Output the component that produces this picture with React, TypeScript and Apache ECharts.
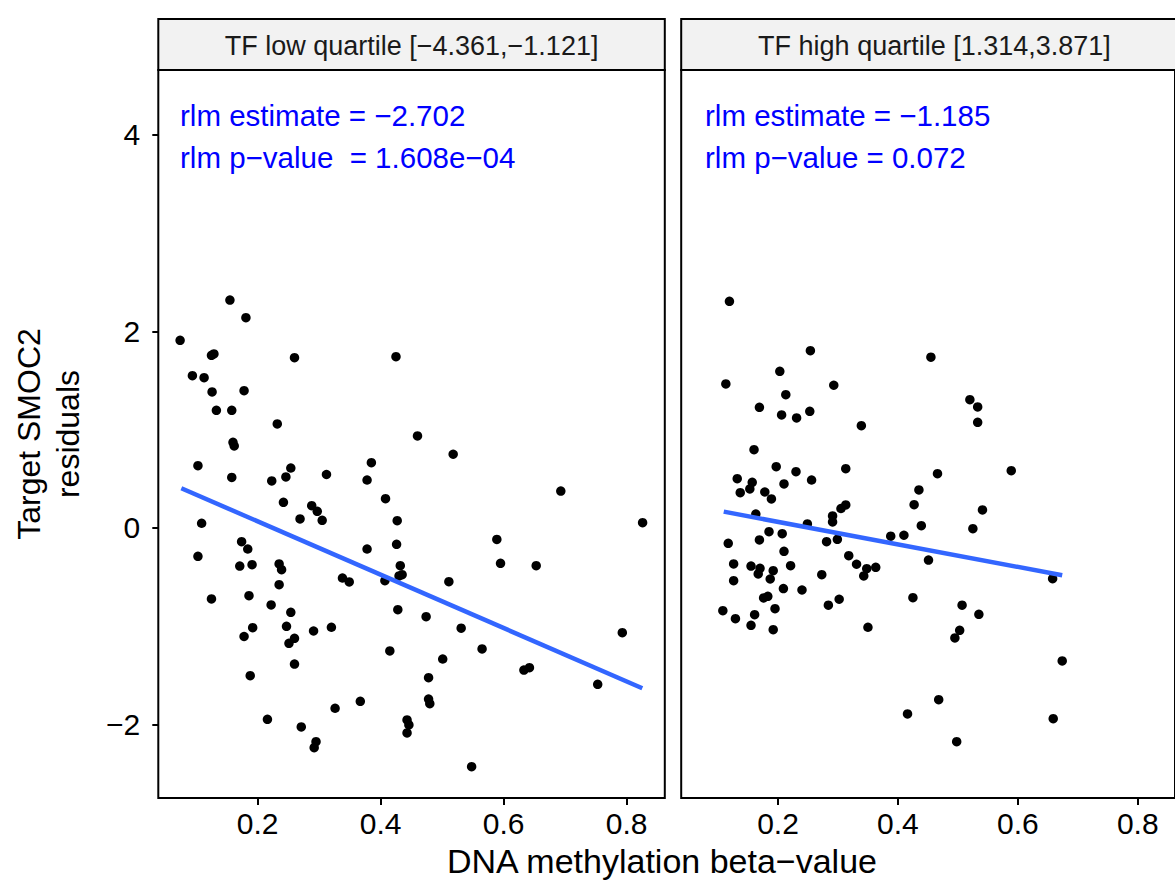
import React, { useEffect, useRef } from "react";
import * as echarts from "echarts";

// ---- data ----
const lowX = [
  0.155, 0.181, 0.074, 0.125, 0.129, 0.26, 0.425, 0.094, 0.113, 0.126,
  0.178, 0.133, 0.158, 0.232, 0.46, 0.16, 0.162, 0.103, 0.254, 0.385,
  0.158, 0.223, 0.246, 0.312, 0.378, 0.518, 0.693, 0.826, 0.408, 0.242,
  0.288, 0.297, 0.109, 0.269, 0.305, 0.427, 0.174, 0.184, 0.378, 0.426,
  0.103, 0.171, 0.191, 0.235, 0.239, 0.432, 0.43, 0.435, 0.407, 0.338,
  0.349, 0.235, 0.125, 0.186, 0.222, 0.254, 0.428, 0.192, 0.247, 0.291,
  0.32, 0.178, 0.251, 0.26, 0.415, 0.26, 0.188, 0.367, 0.326, 0.216,
  0.271, 0.295, 0.292, 0.443, 0.446, 0.443, 0.589, 0.595, 0.653, 0.511,
  0.474, 0.531, 0.565, 0.501, 0.633, 0.642, 0.793, 0.753, 0.478, 0.478,
  0.48, 0.548,
];
const lowY = [
  2.319, 2.139, 1.909, 1.757, 1.77, 1.732, 1.743, 1.549, 1.529, 1.384,
  1.397, 1.197, 1.197, 1.058, 0.936, 0.872, 0.834, 0.634, 0.61, 0.664,
  0.514, 0.478, 0.519, 0.544, 0.488, 0.75, 0.376, 0.054, 0.298, 0.261,
  0.227, 0.17, 0.048, 0.092, 0.078, 0.074, -0.139, -0.214, -0.214, -0.166,
  -0.288, -0.387, -0.373, -0.366, -0.424, -0.384, -0.488, -0.475, -0.536, -0.509,
  -0.549, -0.577, -0.722, -0.689, -0.783, -0.858, -0.831, -1.014, -1.0, -1.048,
  -1.01, -1.104, -1.173, -1.122, -1.251, -1.384, -1.503, -1.763, -1.834, -1.946,
  -2.024, -2.174, -2.235, -1.953, -2.004, -2.085, -0.117, -0.359, -0.384, -0.546,
  -0.902, -1.02, -1.231, -1.333, -1.445, -1.421, -1.065, -1.59, -1.523, -1.74,
  -1.787, -2.428,
];
const highX = [
  0.119, 0.254, 0.203, 0.113, 0.293, 0.213, 0.169, 0.206, 0.231, 0.253,
  0.339, 0.16, 0.197, 0.23, 0.313, 0.132, 0.157, 0.153, 0.137, 0.178,
  0.21, 0.256, 0.189, 0.435, 0.163, 0.249, 0.291, 0.291, 0.305, 0.313,
  0.427, 0.439, 0.117, 0.169, 0.185, 0.207, 0.281, 0.299, 0.388, 0.41,
  0.21, 0.126, 0.155, 0.17, 0.167, 0.192, 0.221, 0.187, 0.126, 0.318,
  0.331, 0.348, 0.343, 0.363, 0.273, 0.209, 0.24, 0.176, 0.183, 0.195,
  0.284, 0.302, 0.425, 0.108, 0.129, 0.161, 0.155, 0.192, 0.35, 0.416,
  0.455, 0.52, 0.533, 0.533, 0.589, 0.466,
  0.525, 0.451, 0.658, 0.507, 0.535, 0.503, 0.495, 0.674, 0.468, 0.659, 0.498, 0.541,
];
const highY = [
  2.306, 1.804, 1.594, 1.465, 1.452, 1.356, 1.228, 1.15, 1.119, 1.187,
  1.041, 0.797, 0.624, 0.573, 0.603, 0.502, 0.465, 0.397, 0.359, 0.366,
  0.448, 0.488, 0.295, 0.387, 0.142, 0.041, 0.122, 0.061, 0.198, 0.234,
  0.237, 0.023, -0.156, -0.122, -0.038, -0.058, -0.139, -0.115, -0.084, -0.074,
  -0.237, -0.366, -0.387, -0.41, -0.468, -0.434, -0.384, -0.519, -0.536, -0.282,
  -0.369, -0.414, -0.488, -0.4, -0.475, -0.617, -0.631, -0.712, -0.695, -0.821,
  -0.786, -0.725, -0.709, -0.841, -0.923, -0.882, -0.99, -1.035, -1.01, -1.892,
  1.737, 1.305, 1.231, 1.075, 0.583, 0.552,
  -0.007, -0.326, -0.516, -0.786, -0.878, -1.041, -1.119, -1.353, -1.747, -1.94, -2.174, 0.183,
];
const lowFitX = [0.076, 0.8255];
const lowFitY = [0.404, -1.63];
const highFitX = [0.1095, 0.674];
const highFitY = [0.166, -0.481];

const xTicks = [0.2, 0.4, 0.6, 0.8];
const yTicks = [-2, 0, 2, 4];
const panelTitles = [
  "TF low quartile [\u22124.361,\u22121.121]",
  "TF high quartile [1.314,3.871]",
];
const lowStats = ["rlm estimate = \u22122.702", "rlm p\u2212value  = 1.608e\u221204"];
const highStats = ["rlm estimate = \u22121.185", "rlm p\u2212value = 0.072"];
const xTitle = "DNA methylation beta\u2212value";
const yTitleLines = ["Target SMOC2", "residuals"];

const X_MIN = 0.03854;
const X_MAX = 0.8621;
const Y_MIN = -2.747;
const Y_MAX = 4.659;

const FONT = "'Liberation Sans', Arial, Helvetica, sans-serif";

const zip = (xs: number[], ys: number[]) => xs.map((x, i) => [x, ys[i]]);
const minus = (s: string) => s.replace(/-/g, "\u2212");

export default function App() {
  const ref = useRef<HTMLDivElement>(null);

  useEffect(() => {
    if (!ref.current) return;
    const chart = echarts.init(ref.current, undefined, { renderer: "svg" });

    const panelLeft = [158.3, 681.2];
    const panelW = 506.5;
    const panelTop = 70;
    const panelH = 728;
    const stripTop = 19;
    const stripH = 51;

    const xAxisBase = (gi: number) => ({
      type: "value",
      gridIndex: gi,
      min: X_MIN,
      max: X_MAX,
      position: "bottom",
      axisLine: { show: false, onZero: false },
      splitLine: { show: false },
      axisTick: {
        show: true,
        customValues: xTicks,
        length: 7,
        lineStyle: { color: "#000", width: 2 },
      },
      axisLabel: {
        customValues: xTicks,
        fontSize: 30,
        color: "#000",
        fontFamily: FONT,
        margin: 10,
        formatter: (v: number) => v.toFixed(1),
      },
    });
    const yAxisBase = (gi: number, show: boolean) => ({
      type: "value",
      gridIndex: gi,
      min: Y_MIN,
      max: Y_MAX,
      position: "left",
      axisLine: { show: false, onZero: false },
      splitLine: { show: false },
      axisTick: {
        show,
        customValues: yTicks,
        length: 6,
        lineStyle: { color: "#000", width: 2 },
      },
      axisLabel: {
        show,
        customValues: yTicks,
        fontSize: 30,
        color: "#000",
        fontFamily: FONT,
        margin: 18,
        formatter: (v: number) => minus(String(v)),
      },
    });

    const graphics: any[] = [];
    [0, 1].forEach((i) => {
      graphics.push({
        type: "rect",
        shape: { x: panelLeft[i], y: stripTop, width: panelW, height: stripH },
        style: { fill: "#F2F2F2", stroke: "#000", lineWidth: 2 },
        z: 10,
      });
      graphics.push({
        type: "text",
        x: panelLeft[i] + panelW / 2,
        y: stripTop + stripH / 2 + 1,
        style: {
          text: panelTitles[i],
          fill: "#1a1a1a",
          fontSize: 27,
          fontFamily: FONT,
          align: "center",
          verticalAlign: "middle",
        },
        z: 11,
      });
      const stats = i === 0 ? lowStats : highStats;
      const tx = i === 0 ? 180 : 705;
      stats.forEach((s, k) => {
        graphics.push({
          type: "text",
          x: tx,
          y: k === 0 ? 115 : 157,
          style: {
            text: s,
            fill: "#0000FF",
            fontSize: 29.5,
            fontFamily: FONT,
            align: "left",
            verticalAlign: "middle",
          },
          z: 11,
        });
      });
    });
    graphics.push({
      type: "text",
      x: 662,
      y: 861,
      style: {
        text: xTitle,
        fill: "#000",
        fontSize: 34,
        fontFamily: FONT,
        align: "center",
        verticalAlign: "middle",
      },
    });
    yTitleLines.forEach((t, k) => {
      graphics.push({
        type: "text",
        x: k === 0 ? 29 : 68,
        y: 434,
        rotation: Math.PI / 2,
        style: {
          text: t,
          fill: "#000",
          fontSize: 32,
          fontFamily: FONT,
          align: "center",
          verticalAlign: "middle",
        },
      });
    });

    chart.setOption({
      animation: false,
      backgroundColor: "#fff",
      grid: [0, 1].map((i) => ({
        left: panelLeft[i],
        top: panelTop,
        width: panelW,
        height: panelH,
        show: true,
        borderColor: "#000",
        borderWidth: 2,
        backgroundColor: "#fff",
        containLabel: false,
      })),
      xAxis: [xAxisBase(0), xAxisBase(1)],
      yAxis: [yAxisBase(0, true), yAxisBase(1, false)],
      series: [
        {
          type: "scatter",
          xAxisIndex: 0,
          yAxisIndex: 0,
          data: zip(lowX, lowY),
          symbolSize: 9.5,
          itemStyle: { color: "#000", opacity: 1 },
          z: 2,
        },
        {
          type: "scatter",
          xAxisIndex: 1,
          yAxisIndex: 1,
          data: zip(highX, highY),
          symbolSize: 9.5,
          itemStyle: { color: "#000", opacity: 1 },
          z: 2,
        },
        {
          type: "line",
          xAxisIndex: 0,
          yAxisIndex: 0,
          data: zip(lowFitX, lowFitY),
          symbol: "none",
          lineStyle: { color: "#3366FF", width: 4.5 },
          z: 3,
        },
        {
          type: "line",
          xAxisIndex: 1,
          yAxisIndex: 1,
          data: zip(highFitX, highFitY),
          symbol: "none",
          lineStyle: { color: "#3366FF", width: 4.5 },
          z: 3,
        },
      ],
      graphic: graphics,
    });

    return () => chart.dispose();
  }, []);

  return (
    <div
      ref={ref}
      style={{ position: "absolute", left: 0, top: 0, width: 1175, height: 882 }}
    />
  );
}
